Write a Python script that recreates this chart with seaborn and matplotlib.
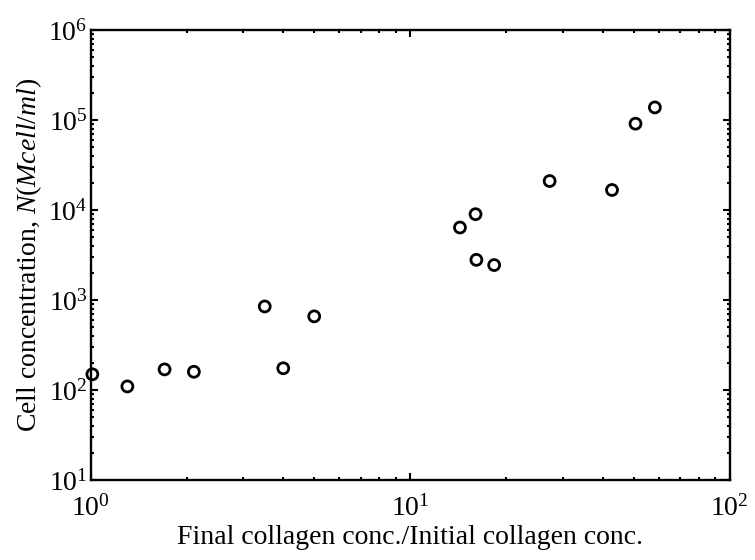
import matplotlib
matplotlib.use("Agg")
import matplotlib.pyplot as plt
import seaborn as sns
import pandas as pd
from matplotlib.ticker import LogLocator, LogFormatterSciNotation, NullFormatter

# Collagen concentration ratio vs. cell concentration
collagen_ratio = [1.01, 1.3, 1.7, 2.1, 3.5, 4.0, 5.0, 14.3, 16.0, 16.1, 18.3, 27.3, 42.8, 50.7, 58.3]
cell_conc = [150, 110, 170, 160, 850, 175, 660, 6400, 9000, 2800, 2450, 21000, 16700, 91000, 138000]

x_limits = (1, 100)
y_limits = (10, 1e6)

sns.set_theme(style="ticks")
plt.rcParams["font.family"] = ["Liberation Serif", "DejaVu Serif"]
plt.rcParams["mathtext.fontset"] = "custom"
plt.rcParams["mathtext.rm"] = "Liberation Serif"
plt.rcParams["mathtext.it"] = "Liberation Serif:italic"
plt.rcParams["mathtext.bf"] = "Liberation Serif:bold"

df = pd.DataFrame({"ratio": collagen_ratio, "cells": cell_conc})

fig = plt.figure(figsize=(7.55, 5.6), dpi=100)
ax = fig.add_axes([0.1205, 0.1425, 0.846, 0.804])

sns.scatterplot(data=df, x="ratio", y="cells", ax=ax, marker="o", s=62,
                facecolor="none", edgecolor="black", linewidth=2.0,
                clip_on=False, zorder=3)

ax.set_xscale("log")
ax.set_yscale("log")
ax.set_xlim(*x_limits)
ax.set_ylim(*y_limits)

for axis in (ax.xaxis, ax.yaxis):
    axis.set_major_locator(LogLocator(base=10))
    axis.set_major_formatter(LogFormatterSciNotation(base=10))
    axis.set_minor_locator(LogLocator(base=10, subs=range(2, 10)))
    axis.set_minor_formatter(NullFormatter())

for side in ("top", "right", "bottom", "left"):
    ax.spines[side].set_visible(True)
    ax.spines[side].set_linewidth(1.7)
    ax.spines[side].set_color("black")

ax.tick_params(which="both", direction="in", top=True, right=True,
               color="black", width=1.5, labelsize=20, labelcolor="black")
ax.tick_params(which="major", length=5)
ax.tick_params(which="minor", length=2.5)
ax.tick_params(axis="x", which="major", pad=11)
ax.tick_params(axis="y", which="major", pad=2.5)

ax.set_xlabel("Final collagen conc./Initial collagen conc.", fontsize=20,
              color="black", labelpad=2)
ax.set_ylabel(r"Cell concentration, $\mathit{N}$($\mathit{Mcell/ml}$)",
              fontsize=20, color="black", labelpad=3)

ax.set_facecolor("white")
fig.patch.set_facecolor("white")

fig.savefig("out.png", dpi=100, facecolor="white")
